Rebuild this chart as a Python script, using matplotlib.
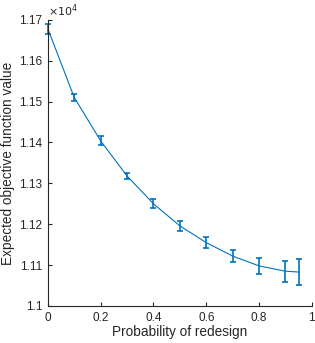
import matplotlib.pyplot as plt
import numpy as np

# probability of redesign vs expected objective value (mean +- error)
prob = [0.0, 0.1, 0.2, 0.3, 0.4, 0.5, 0.6, 0.7, 0.8, 0.9, 0.95]
obj_value = [11678, 11510, 11404, 11318, 11250, 11196, 11155, 11122, 11098, 11085, 11083]
obj_err = [13, 9, 11, 8, 11, 12, 13, 15, 19, 26, 31]

x_ticks = [0, 0.2, 0.4, 0.6, 0.8, 1]
x_labels = ["0", "0.2", "0.4", "0.6", "0.8", "1"]
y_ticks = [1.10, 1.11, 1.12, 1.13, 1.14, 1.15, 1.16, 1.17]
y_labels = ["1.1", "1.11", "1.12", "1.13", "1.14", "1.15", "1.16", "1.17"]

plt.rcParams["font.family"] = ["Liberation Sans", "DejaVu Sans"]
axis_col = "#262626"
line_col = "#0072BD"

fig = plt.figure(figsize=(3.15, 3.43), dpi=100)
ax = fig.add_axes([0.152, 0.108, 0.838, 0.834])

scale = 1e4
y = np.array(obj_value) / scale
e = np.array(obj_err) / scale
cont = ax.errorbar(prob, y, yerr=e, color=line_col, lw=0.8, elinewidth=1.2,
                   capsize=2.5, capthick=1.2)
for art in cont.lines[1] + cont.lines[2]:
    art.set_clip_on(False)
for art in cont.lines[2]:
    art.set_clip_on(False)

ax.set_xlim(0, 1)
ax.set_ylim(1.10, 1.17)
ax.set_xticks(x_ticks)
ax.set_xticklabels(x_labels)
ax.set_yticks(y_ticks)
ax.set_yticklabels(y_labels)

for side in ["top", "right"]:
    ax.spines[side].set_visible(False)
for side in ["left", "bottom"]:
    ax.spines[side].set_color(axis_col)
    ax.spines[side].set_linewidth(0.8)
ax.tick_params(direction="in", length=3, width=0.8, colors=axis_col,
               labelsize=8.5, pad=4)

ax.set_xlabel("Probability of redesign", fontsize=9.8, color=axis_col, labelpad=1)
ax.set_ylabel("Expected objective function value", fontsize=9.8, color=axis_col, labelpad=3)
ax.text(0.0, 1.003, r"$\times10^4$", transform=ax.transAxes, fontsize=8,
        color=axis_col, ha="left", va="bottom")

fig.savefig("out.png", dpi=100)
